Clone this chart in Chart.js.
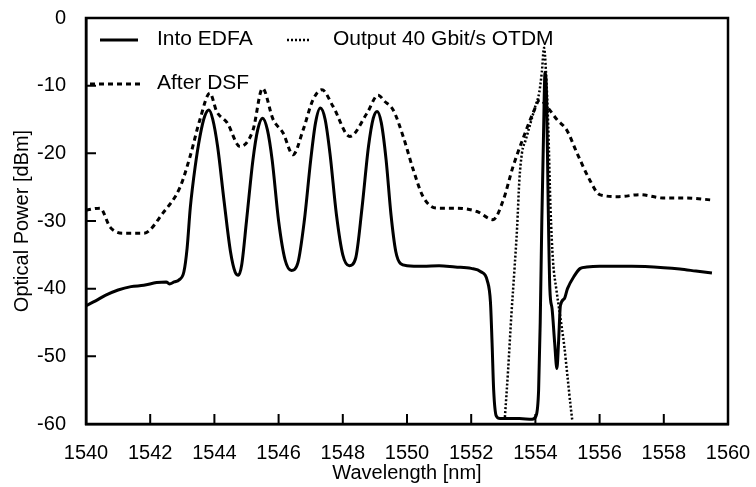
<!DOCTYPE html>
<html>
<head>
<meta charset="utf-8">
<script src="https://cdn.jsdelivr.net/npm/chart.js@4"></script>
<style>
  html, body { margin: 0; padding: 0; background: #fff; }
  #wrap { width: 756px; height: 487px; }
</style>
</head>
<body>
<div id="wrap"><canvas id="spectrum" width="756" height="487"></canvas></div>
<script>
// wavelength ticks and power ticks
const xTickValues = [1540, 1542, 1544, 1546, 1548, 1550, 1552, 1554, 1556, 1558, 1560];
const yTickValues = [-60, -50, -40, -30, -20, -10, 0];

const seriesLabels = ['Into EDFA', 'Output 40 Gbit/s OTDM', 'After DSF'];

// Into EDFA (solid)
const edfaWavelength = [1540.0, 1540.3, 1540.6, 1541.0, 1541.4, 1541.8, 1542.2, 1542.5, 1542.6, 1542.75, 1542.9,
  1543.05, 1543.15, 1543.25, 1543.4, 1543.55, 1543.7, 1543.83, 1543.95, 1544.1, 1544.3, 1544.5, 1544.65, 1544.75,
  1544.85, 1545.0, 1545.2, 1545.35, 1545.5, 1545.65, 1545.8, 1546.0, 1546.2, 1546.4, 1546.6, 1546.8, 1547.0,
  1547.15, 1547.3, 1547.45, 1547.6, 1547.8, 1548.0, 1548.2, 1548.4, 1548.6, 1548.8, 1548.95, 1549.07, 1549.2,
  1549.35, 1549.5, 1549.65, 1549.8, 1550.0, 1550.5, 1551.0, 1551.5, 1552.0, 1552.3, 1552.5, 1552.6, 1552.65,
  1552.7, 1552.78, 1552.9, 1553.5, 1553.9, 1554.02, 1554.1, 1554.15, 1554.2, 1554.25, 1554.3, 1554.35, 1554.4,
  1554.45, 1554.52, 1554.6, 1554.67, 1554.72, 1554.78, 1554.9, 1555.0, 1555.2, 1555.4, 1555.6, 1556.0, 1557.0,
  1558.0, 1558.5, 1559.0, 1559.5];
const edfaPower = [-42.5, -41.8, -41.0, -40.2, -39.7, -39.5, -39.1, -39.0, -39.3, -39.0, -38.7,
  -37.5, -34, -28, -22, -17.5, -14.5, -13.6, -15, -19, -27, -34.5, -37.6, -38.0,
  -36.5, -30, -21, -16.5, -14.8, -16.5, -21, -30, -35.7, -37.3, -36.2, -30, -21,
  -15.5, -13.3, -15, -20, -29, -35, -36.6, -35.5, -28, -19, -14.8, -13.8, -15.5,
  -21, -29, -34.5, -36.3, -36.6, -36.7, -36.6, -36.8, -37.0, -37.5, -38.8, -42, -48,
  -55, -58.8, -59.2, -59.2, -59.3, -58.8, -55, -45, -30, -18, -8, -12, -28,
  -40, -43, -48, -51.8, -48, -42.5, -41.5, -40, -38.2, -37, -36.8, -36.7, -36.7,
  -36.9, -37.1, -37.4, -37.7];

// Output 40 Gbit/s OTDM (dotted)
const otdmWavelength = [1553.05, 1553.15, 1553.25, 1553.35, 1553.43, 1553.5, 1553.58, 1553.7, 1553.85, 1554.0,
  1554.12, 1554.2, 1554.27, 1554.33, 1554.4, 1554.47, 1554.55, 1554.65, 1554.77, 1554.9, 1555.0, 1555.1, 1555.15];
const otdmPower = [-59, -52, -44, -37, -31, -24, -20, -18, -15.5, -13,
  -11, -8, -4.4, -8, -16, -28, -36, -40, -44, -48.5, -53, -57.5, -59.5];

// After DSF (dashed)
const dsfWavelength = [1540.0, 1540.44, 1540.75, 1541.15, 1541.8, 1542.4, 1542.93, 1543.24, 1543.55, 1543.86,
  1544.07, 1544.4, 1544.8, 1545.2, 1545.5, 1545.83, 1546.14, 1546.45, 1546.76, 1547.07, 1547.35, 1547.7,
  1548.22, 1548.75, 1549.1, 1549.3, 1549.57, 1549.88, 1550.2, 1550.5, 1550.93, 1551.56, 1552.18, 1552.68,
  1553.0, 1553.3, 1553.6, 1553.93, 1554.14, 1554.36, 1554.67, 1554.98, 1555.3, 1555.7, 1556.0, 1556.6,
  1557.26, 1557.97, 1558.7, 1559.5];
const dsfPower = [-28.4, -28.1, -30.9, -31.8, -31.8, -28.8, -25, -20.5, -15, -11.1,
  -13.8, -15.5, -19, -16.6, -10.4, -15, -17, -20.2, -16.6, -12.1, -10.6, -13.1,
  -17.5, -14.1, -11.4, -12.3, -13.6, -17.5, -22.5, -26.4, -28.1, -28.1, -28.6, -29.8,
  -26.9, -22, -18, -14, -12.1, -13.1, -15, -16.6, -20, -24, -26.1, -26.4,
  -26.1, -26.6, -26.6, -26.9];

const toPoints = (xs, ys) => xs.map((x, i) => ({ x: x, y: ys[i] }));

const FONT = "'Liberation Sans', Arial, Helvetica, sans-serif";
const INK = '#000';

// inward tick marks + closed frame
const frame = {
    id: 'frame',
    afterDraw(chart) {
        const { ctx, chartArea: a, scales } = chart;
        ctx.save();
        ctx.strokeStyle = INK;
        ctx.lineWidth = 2.5;
        ctx.strokeRect(a.left, a.top, a.right - a.left, a.bottom - a.top);
        ctx.lineWidth = 2;
        ctx.beginPath();
        scales.x.ticks.forEach(t => {
            if (t.value <= 1540 || t.value >= 1560) return;
            const px = scales.x.getPixelForValue(t.value);
            ctx.moveTo(px, a.bottom);
            ctx.lineTo(px, a.bottom - 10);
        });
        scales.y.ticks.forEach(t => {
            if (t.value <= -60 || t.value >= 0) return;
            const py = scales.y.getPixelForValue(t.value);
            ctx.moveTo(a.left, py);
            ctx.lineTo(a.left + 10, py);
        });
        ctx.stroke();
        ctx.restore();
    }
};

// legend inside the plot, two rows like the original figure
const insideLegend = {
    id: 'insideLegend',
    afterDraw(chart) {
        const ctx = chart.ctx;
        const rows = [
            { ds: 0, x0: 100, x1: 138, tx: 157, y: 40 },
            { ds: 1, x0: 287, x1: 311, tx: 333, y: 40 },
            { ds: 2, x0: 90, x1: 140, tx: 157, y: 84 }
        ];
        ctx.save();
        ctx.font = '21px ' + FONT;
        ctx.textBaseline = 'middle';
        ctx.fillStyle = INK;
        rows.forEach(r => {
            const d = chart.data.datasets[r.ds];
            ctx.strokeStyle = INK;
            ctx.lineWidth = d.borderWidth;
            ctx.setLineDash(d.borderDash || []);
            ctx.beginPath();
            ctx.moveTo(r.x0, r.y);
            ctx.lineTo(r.x1, r.y);
            ctx.stroke();
            ctx.setLineDash([]);
            ctx.fillText(d.label, r.tx, r.y - 1);
        });
        ctx.restore();
    }
};

const ctx = document.getElementById('spectrum').getContext('2d');
new Chart(ctx, {
    type: 'scatter',
    data: {
        datasets: [{
            label: seriesLabels[0],
            data: toPoints(edfaWavelength, edfaPower),
            borderColor: INK,
            borderWidth: 3,
            borderDash: [],
        }, {
            label: seriesLabels[1],
            data: toPoints(otdmWavelength, otdmPower),
            borderColor: INK,
            borderWidth: 2.5,
            borderDash: [2, 2],
        }, {
            label: seriesLabels[2],
            data: toPoints(dsfWavelength, dsfPower),
            borderColor: INK,
            borderWidth: 3,
            borderDash: [5, 4],
        }]
    },
    plugins: [frame, insideLegend],
    options: {
        responsive: false,
        animation: false,
        showLine: true,
        layout: { padding: { left: 0, top: 18, right: 28, bottom: 0 } },
        elements: {
            point: { radius: 0, hoverRadius: 0 },
            line: { tension: 0, cubicInterpolationMode: 'monotone', borderCapStyle: 'butt' }
        },
        plugins: {
            legend: { display: false },
            tooltip: { enabled: false }
        },
        scales: {
            x: {
                type: 'linear',
                min: 1540,
                max: 1560,
                afterBuildTicks: scale => { scale.ticks = xTickValues.map(v => ({ value: v })); },
                afterFit: scale => {
                    scale.height = 63;
                    scale.paddingLeft = 0;
                    scale.paddingRight = 0;
                },
                grid: { display: false },
                border: { display: true, color: INK, width: 2.5 },
                ticks: {
                    color: INK,
                    padding: 9,
                    maxRotation: 0,
                    font: { family: FONT, size: 20 },
                    callback: v => String(v)
                },
                title: {
                    display: true,
                    text: 'Wavelength [nm]',
                    color: INK,
                    padding: { top: 0, bottom: 2 },
                    font: { family: FONT, size: 20 }
                }
            },
            y: {
                min: -60,
                max: 0,
                afterBuildTicks: scale => { scale.ticks = yTickValues.map(v => ({ value: v })); },
                afterFit: scale => {
                    scale.width = 86;
                    scale.paddingTop = 0;
                    scale.paddingBottom = 0;
                },
                grid: { display: false },
                border: { display: true, color: INK, width: 2.5 },
                ticks: {
                    color: INK,
                    padding: 12,
                    font: { family: FONT, size: 20 },
                    callback: v => String(v)
                },
                title: {
                    display: true,
                    text: 'Optical Power [dBm]',
                    color: INK,
                    padding: { top: 10, bottom: 0 },
                    font: { family: FONT, size: 20 }
                }
            }
        }
    }
});
</script>
</body>
</html>
